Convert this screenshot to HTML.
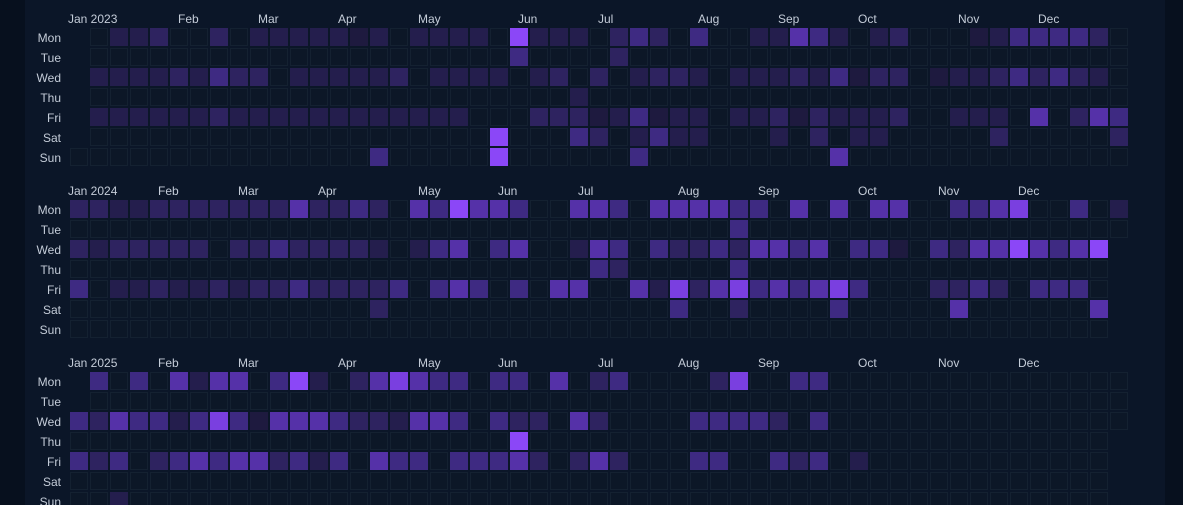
<!DOCTYPE html>
<html><head><meta charset="utf-8">
<style>
html,body{margin:0;padding:0;background:#07101e;width:1183px;height:505px;overflow:hidden}
#panel{position:absolute;left:25px;top:0;width:1140px;height:505px;background:#0b1628}
svg{position:absolute;left:0;top:0}
text{font-family:"Liberation Sans",sans-serif;font-size:12px;fill:#c4ccd8}
</style></head><body>
<div id="panel"></div>
<svg id="s" width="1183" height="505" xmlns="http://www.w3.org/2000/svg">
<g id="cells"></g>
<g text-anchor="end">
<text x="61" y="42">Mon</text><text x="61" y="62">Tue</text><text x="61" y="82">Wed</text><text x="61" y="102">Thu</text><text x="61" y="122">Fri</text><text x="61" y="142">Sat</text><text x="61" y="162">Sun</text>
<text x="61" y="214">Mon</text><text x="61" y="234">Tue</text><text x="61" y="254">Wed</text><text x="61" y="274">Thu</text><text x="61" y="294">Fri</text><text x="61" y="314">Sat</text><text x="61" y="334">Sun</text>
<text x="61" y="386">Mon</text><text x="61" y="406">Tue</text><text x="61" y="426">Wed</text><text x="61" y="446">Thu</text><text x="61" y="466">Fri</text><text x="61" y="486">Sat</text><text x="61" y="506">Sun</text>
</g>
<g>
<text x="68" y="23">Jan 2023</text><text x="178" y="23">Feb</text><text x="258" y="23">Mar</text><text x="338" y="23">Apr</text><text x="418" y="23">May</text><text x="518" y="23">Jun</text><text x="598" y="23">Jul</text><text x="698" y="23">Aug</text><text x="778" y="23">Sep</text><text x="858" y="23">Oct</text><text x="958" y="23">Nov</text><text x="1038" y="23">Dec</text>
<text x="68" y="195">Jan 2024</text><text x="158" y="195">Feb</text><text x="238" y="195">Mar</text><text x="318" y="195">Apr</text><text x="418" y="195">May</text><text x="498" y="195">Jun</text><text x="578" y="195">Jul</text><text x="678" y="195">Aug</text><text x="758" y="195">Sep</text><text x="858" y="195">Oct</text><text x="938" y="195">Nov</text><text x="1018" y="195">Dec</text>
<text x="68" y="367">Jan 2025</text><text x="158" y="367">Feb</text><text x="238" y="367">Mar</text><text x="338" y="367">Apr</text><text x="418" y="367">May</text><text x="498" y="367">Jun</text><text x="598" y="367">Jul</text><text x="678" y="367">Aug</text><text x="758" y="367">Sep</text><text x="858" y="367">Oct</text><text x="938" y="367">Nov</text><text x="1018" y="367">Dec</text>
</g>
</svg>
<script>
var C={'0':'#0c1727','1':'#1e1a3f','2':'#241e4d','3':'#2e2360','4':'#3e2a82','5':'#5531a8','6':'#8b47f7','7':'#7a3fe0'};
function sp(o){var a=[];for(var i=0;i<53;i++)a.push('0');for(var k in o)a[k]=String(o[k]);return a.join('');}
var Y=[
 {off:6,days:365,top:28,rows:[
  "-0223003022222120222206222"+"034304002254202300012444430",
  sp({22:4,27:3}),
  "-2222324330222223022220230"+"302332022232413301223434320",
  sp({25:2}),
  "-2222223222222222222000333"+"124122022313222300222050354",
  sp({21:6,25:4,26:3,28:2,29:4,30:2,31:2,35:2,37:3,39:2,40:2,46:3,52:3}),
  sp({15:4,21:6,28:4,38:5})]},
 {off:0,days:366,top:200,rows:[
  "33223333333533430546554005"+"540555544050505500445700402",
  sp({33:4}),
  "32333330334333320245045002"+"54043343554504410435565456-",
  sp({26:4,27:3,33:4}),
  "40223223233433334045404055"+"00527357454574000334304440-",
  sp({15:3,30:4,33:3,38:4,44:5,51:5}),
  sp({})]},
 {off:2,days:365,top:372,rows:[
  "-4040525504620357544044050"+"340000370044000000000000000",
  sp({}),
  "43544247415554332554043305"+"300004444304000000000000000",
  sp({22:6}),
  "43403454553424054404445303"+"530004400434020000000000000",
  sp({}),
  sp({2:2})]}
];
var g=document.getElementById('cells'),h='';
Y.forEach(function(y){
 for(var n=0;n<y.days;n++){
  var idx=y.off+n,c=Math.floor(idx/7),r=idx%7;
  var v=y.rows[r][c];if(!v||v=='-')v='0';
  var x=70+20*c,yy=y.top+20*r;
  if(v=='0')h+='<rect x="'+(x+0.5)+'" y="'+(yy+0.5)+'" width="17" height="17" fill="#0c1727" stroke="#142131" stroke-width="1"/>';
  else h+='<rect x="'+x+'" y="'+yy+'" width="18" height="18" fill="'+C[v]+'"/>';
 }
});
g.innerHTML=h;
</script>
</body></html>
